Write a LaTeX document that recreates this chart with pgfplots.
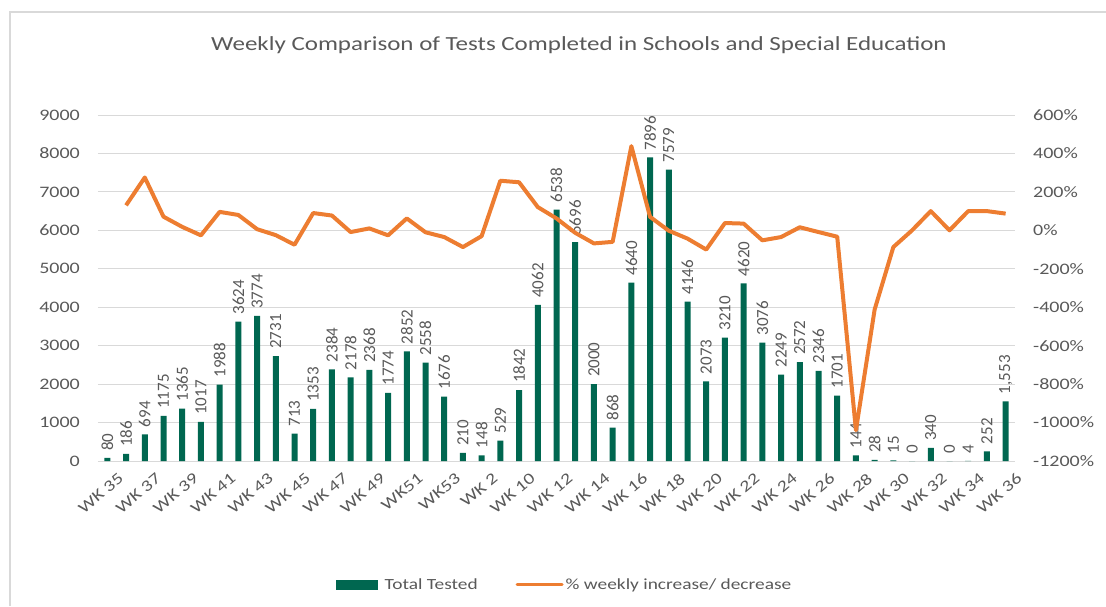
\documentclass[border=0pt]{standalone}
\usepackage{pgfplots}
\pgfplotsset{compat=1.18}
\usepackage{pgfplotstable}
\usepackage{fontspec}
\setmainfont[FakeStretch=1.25]{Carlito}
\newfontfamily\rotfont{Carlito}
\definecolor{bargreen}{RGB}{0,103,80}
\definecolor{lineorange}{RGB}{237,125,49}
\definecolor{txtgray}{RGB}{89,89,89}
\definecolor{gridgray}{RGB}{217,217,217}

\pgfplotstableread{
x y lab
0 80 80
1 186 186
2 694 694
3 1175 1175
4 1365 1365
5 1017 1017
6 1988 1988
7 3624 3624
8 3774 3774
9 2731 2731
10 713 713
11 1353 1353
12 2384 2384
13 2178 2178
14 2368 2368
15 1774 1774
16 2852 2852
17 2558 2558
18 1676 1676
19 210 210
20 148 148
21 529 529
22 1842 1842
23 4062 4062
24 6538 6538
25 5696 5696
26 2000 2000
27 868 868
28 4640 4640
29 7896 7896
30 7579 7579
31 4146 4146
32 2073 2073
33 3210 3210
34 4620 4620
35 3076 3076
36 2249 2249
37 2572 2572
38 2346 2346
39 1701 1701
40 144 144
41 28 28
42 15 15
43 0 0
44 340 340
45 0 0
46 4 4
47 252 252
48 1553 {1,553}
}\bardata

\pgfplotstableread{
x p
1 130
2 275
3 71
4 18
5 -26
6 96
7 80
8 6
9 -25
10 -75
11 90
12 77
13 -9
14 10
15 -26
16 62
17 -10
18 -35
19 -87
20 -30
21 258
22 250
23 121
24 62
25 -13
26 -68
27 -60
28 438
29 70
30 -2
31 -43
32 -100
33 38
34 35
35 -52
36 -35
37 16
38 -9
39 -33
40 -1040
41 -412
42 -87
43 0
44 100
45 0
46 100
47 100
48 87
}\linedata

\begin{document}
\begin{tikzpicture}[x=1pt,y=1pt]
\useasboundingbox (0,0) rectangle (1106,606);
\draw[gridgray, line width=1.2pt] (10,0) -- (10,594) -- (1106,594);
\node[text=txtgray, font=\fontsize{20}{23}\selectfont] at (579,561)
  {Weekly Comparison of Tests Completed in Schools and Special Education};

\begin{axis}[
  at={(98pt,145pt)}, anchor=south west,
  width=917pt, height=346pt, scale only axis,
  xmin=-0.5, xmax=48.5, ymin=0, ymax=9000,
  axis x line*=bottom, axis y line*=left,
  y axis line style={draw=none},
  x axis line style={draw=gridgray, line width=1pt},
  major tick length=0pt,
  ytick={0,1000,...,9000},
  ymajorgrids, grid style={gridgray, line width=0.8pt},
  xtick={0,2,...,48},
  xticklabels={WK 35, WK 37, WK 39, WK 41, WK 43, WK 45, WK 47, WK 49, WK51, WK53, WK 2, WK 10, WK 12, WK 14, WK 16, WK 18, WK 20, WK 22, WK 24, WK 26, WK 28, WK 30, WK 32, WK 34, WK 36},
  /pgf/number format/assume math mode=true,
  /pgf/number format/1000 sep={},
  yticklabel style={text=txtgray, font=\fontsize{16}{18}\selectfont, anchor=east, inner sep=0pt, xshift=-18pt},
  xticklabel style={text=txtgray, font=\fontsize{16}{18}\selectfont, rotate=40, anchor=north east, inner sep=0pt, xshift=1pt, yshift=-15pt},
]
\addplot[ybar, bar width=6pt, fill=bargreen, draw=none,
  nodes near coords, point meta=explicit symbolic,
  nodes near coords style={rotate=90, anchor=west, inner xsep=7pt, inner ysep=1pt, text=txtgray, font=\rotfont\fontsize{17}{19}\selectfont}]
  table[x=x, y=y, meta=lab] {\bardata};
\end{axis}

\begin{axis}[
  at={(98pt,145pt)}, anchor=south west,
  width=917pt, height=346pt, scale only axis,
  xmin=-0.5, xmax=48.5, ymin=-1200, ymax=600,
  axis y line*=right, axis x line=none,
  y axis line style={draw=none},
  major tick length=0pt,
  ytick={-1200,-1000,...,600},
  /pgf/number format/assume math mode=true,
  /pgf/number format/1000 sep={},
  yticklabel={\pgfmathprintnumber{\tick}\%},
  yticklabel style={text=txtgray, font=\fontsize{16}{18}\selectfont, anchor=west, inner sep=0pt, xshift=18pt},
  legend style={at={(0.509,-0.358)}, anchor=center, draw=none, fill=none,
    legend columns=2, text=txtgray, font=\fontsize{15.5}{18}\selectfont,
    /tikz/every even column/.append style={column sep=36pt}},
]
\addlegendimage{legend image code/.code={\fill[bargreen] (0pt,-4.5pt) rectangle (41pt,4.5pt);}}
\addlegendentry{\hspace{5pt}Total Tested}
\addplot[lineorange, line width=4pt, line join=round, mark=none,
  legend image code/.code={\draw[lineorange, line width=3pt, line cap=round] (0pt,0pt) -- (45pt,0pt);}]
  table[x=x, y=p] {\linedata};
\addlegendentry{\% weekly increase/ decrease}
\end{axis}
\end{tikzpicture}
\end{document}
